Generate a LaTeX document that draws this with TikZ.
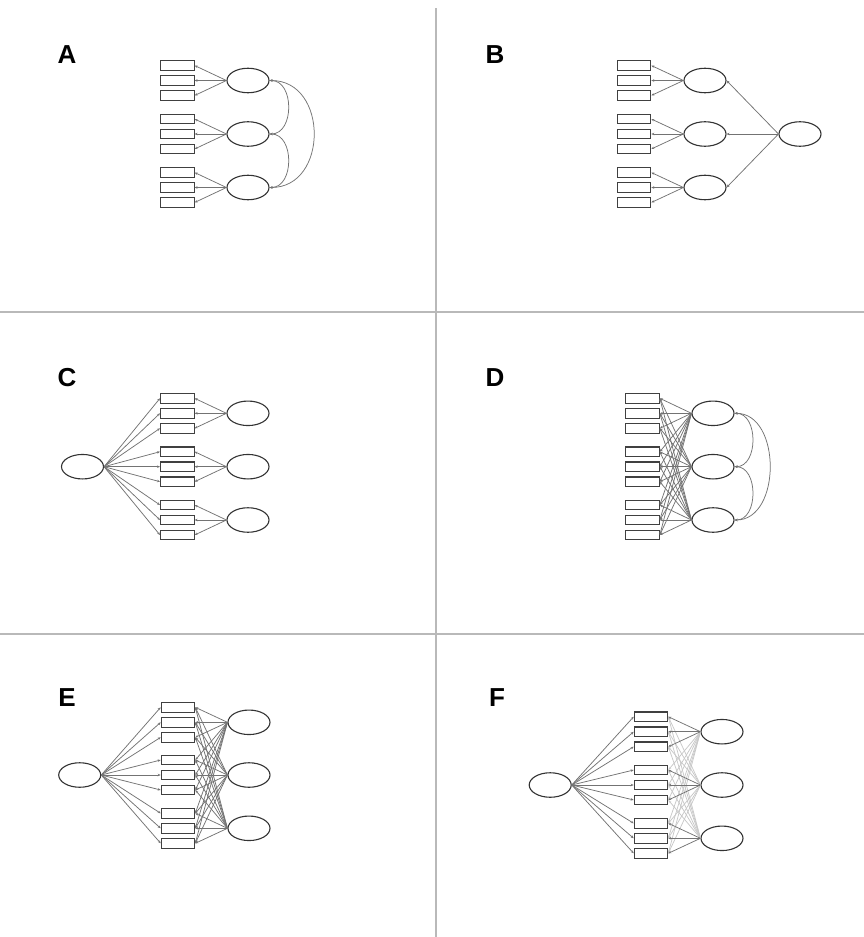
\documentclass[tikz,border=0pt]{standalone}
\usepackage{fontspec}
\setmainfont{Liberation Sans}
\usetikzlibrary{arrows.meta,shapes.geometric}
\definecolor{pathgray}{RGB}{115,115,115}
\definecolor{crossgray}{RGB}{200,200,200}
\definecolor{rulegray}{RGB}{185,185,185}

\begin{document}
\begin{tikzpicture}[x=1pt, y=-1pt,
  ind/.style={draw=black!75, rectangle, minimum width=33.5pt, minimum height=9.5pt,
              inner sep=0pt, line width=1.1pt},
  lat/.style={draw=black!80, ellipse, minimum width=42pt, minimum height=24.5pt,
              inner sep=0pt, line width=1.1pt},
  load/.style={-{Stealth[length=3pt,width=2.5pt]}, pathgray, line width=0.75pt},
  cross/.style={load, crossgray},
  cov/.style={{Stealth[length=3pt,width=2.5pt]}-{Stealth[length=3pt,width=2.5pt]},
              pathgray, line width=0.75pt},
  panel/.style={font=\bfseries\fontsize{26}{26}\selectfont, inner sep=0pt}
]
  \useasboundingbox (0,0) rectangle (864,937);

  % panel rules
  \draw[rulegray, line width=1.4pt] (436,8) -- (436,937);
  \draw[rulegray, line width=1.4pt] (0,312) -- (864,312);
  \draw[rulegray, line width=1.4pt] (0,634) -- (864,634);

  % A: correlated factors
  \node[panel] (labA) at (67,55) {A};
  \foreach \f/\y in {1/80.5,2/134,3/187.5}{
    \node[lat] (aF\f) at (248,\y) {};
    \foreach \r in {1,2,3}{
      \node[ind] (a\f\r) at (177.3,\y+15*\r-30) {};
      \draw[load] (aF\f.west) -- (a\f\r.east);
    }
  }
  \draw[cov] (aF1.east) .. controls +(25,0) and +(25,0) .. (aF2.east);
  \draw[cov] (aF2.east) .. controls +(25,0) and +(25,0) .. (aF3.east);
  \draw[cov] (aF1.east) .. controls +(59,0) and +(59,0) .. (aF3.east);

  % B: higher order
  \node[panel] (labB) at (495,55) {B};
  \node[lat] (bG) at (800,134) {};
  \foreach \f/\y in {1/80.5,2/134,3/187.5}{
    \node[lat] (bF\f) at (705,\y) {};
    \draw[load] (bG.west) -- (bF\f.east);
    \foreach \r in {1,2,3}{
      \node[ind] (b\f\r) at (634,\y+15*\r-30) {};
      \draw[load] (bF\f.west) -- (b\f\r.east);
    }
  }

  % C: bifactor
  \node[panel] (labC) at (67,378) {C};
  \node[lat] (cG) at (82.5,466.7) {};
  \foreach \f/\y in {1/413.3,2/466.7,3/520}{
    \node[lat] (cF\f) at (248,\y) {};
    \foreach \r in {1,2,3}{
      \node[ind] (c\f\r) at (177.3,\y+15*\r-30) {};
      \draw[load] (cF\f.west) -- (c\f\r.east);
      \draw[load] (cG.east) -- (c\f\r.west);
    }
  }

  % D: ESEM
  \node[panel] (labD) at (495,378) {D};
  \foreach \f/\y in {1/413.3,2/466.7,3/520}{
    \node[lat] (dF\f) at (713,\y) {};
    \foreach \r in {1,2,3}
      \node[ind] (d\f\r) at (642.5,\y+15*\r-30) {};
  }
  \foreach \f in {1,2,3}
    \foreach \g in {1,2,3}
      \foreach \r in {1,2,3}
        \draw[load] (dF\f.west) -- (d\g\r.east);
  \draw[cov] (dF1.east) .. controls +(24,0) and +(24,0) .. (dF2.east);
  \draw[cov] (dF2.east) .. controls +(24,0) and +(24,0) .. (dF3.east);
  \draw[cov] (dF1.east) .. controls +(47,0) and +(47,0) .. (dF3.east);

  % E: bifactor ESEM
  \node[panel] (labE) at (67,698) {E};
  \node[lat] (eG) at (79.7,775) {};
  \foreach \f/\y in {1/722.3,2/775,3/828.3}{
    \node[lat] (eF\f) at (249,\y) {};
    \foreach \r in {1,2,3}{
      \node[ind] (e\f\r) at (178,\y+15*\r-30) {};
      \draw[load] (eG.east) -- (e\f\r.west);
    }
  }
  \foreach \f in {1,2,3}
    \foreach \g in {1,2,3}
      \foreach \r in {1,2,3}
        \draw[load] (eF\f.west) -- (e\g\r.east);

  % F: bifactor ESEM, small cross loadings
  \node[panel] (labF) at (497,698) {F};
  \node[lat] (fG) at (550.2,785) {};
  \foreach \f/\y in {1/731.7,2/785,3/838.3}{
    \node[lat] (fF\f) at (722,\y) {};
    \foreach \r in {1,2,3}{
      \node[ind] (f\f\r) at (651,\y+15*\r-30) {};
      \draw[load] (fG.east) -- (f\f\r.west);
    }
  }
  \foreach \f in {1,2,3}
    \foreach \g in {1,2,3}
      \foreach \r in {1,2,3}{
        \ifnum\f=\g\relax\else\draw[cross] (fF\f.west) -- (f\g\r.east);\fi
      }
  \foreach \f in {1,2,3}
    \foreach \r in {1,2,3}
      \draw[load] (fF\f.west) -- (f\f\r.east);
\end{tikzpicture}
\end{document}
